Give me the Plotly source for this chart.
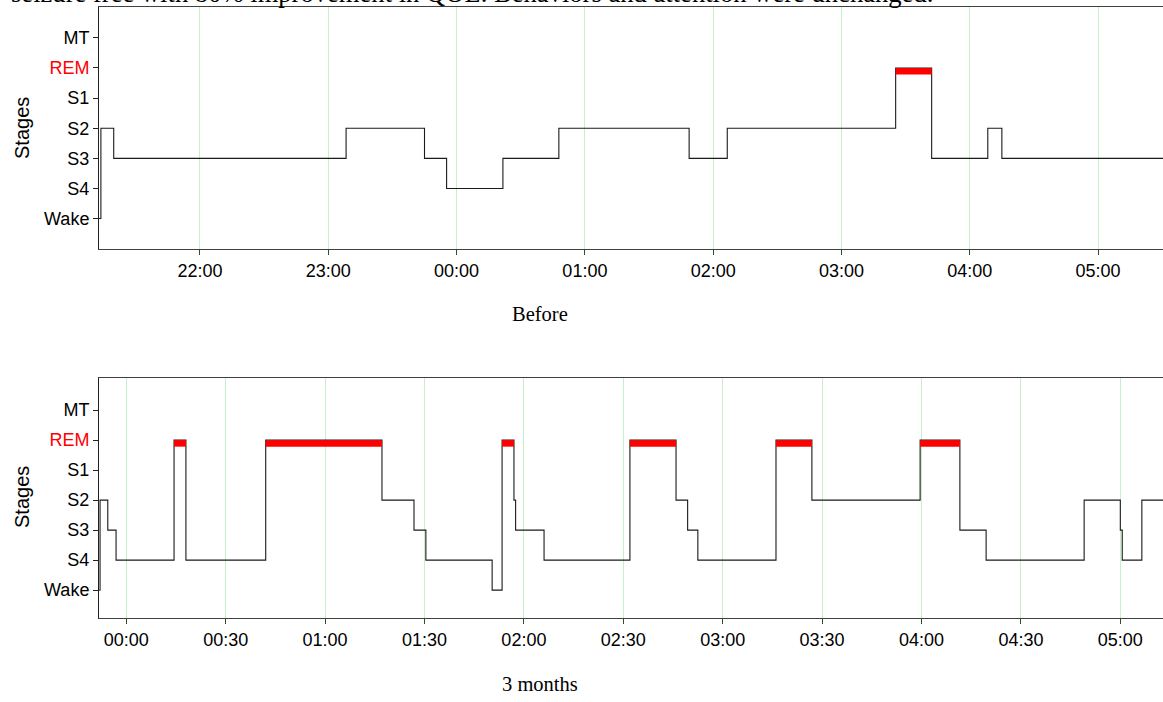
import plotly.graph_objects as go
from datetime import datetime

# ---------------- data ----------------
stage_order = ["Wake", "S4", "S3", "S2", "S1", "REM", "MT"]
tick_labels = ["Wake", "S4", "S3", "S2", "S1", '<span style="color:#ff0000">REM</span>', "MT"]

before_times = ["21:12:40", "21:13:40", "21:19:40", "23:08:20", "23:45:00", "23:55:20",
                "00:21:40", "00:47:50", "01:48:45", "02:06:35", "03:25:20", "03:42:10",
                "04:08:25", "04:15:00", "05:31:00"]
before_stages = ["Wake", "S2", "S3", "S2", "S3", "S4",
                 "S3", "S2", "S3", "S2", "REM", "S3",
                 "S2", "S3", "S3"]

after_times = ["23:51:50", "23:52:05", "23:54:25", "23:56:55", "00:14:25", "00:18:00",
               "00:42:05", "01:17:10", "01:26:50", "01:30:25", "01:50:25", "01:53:25",
               "01:57:00", "01:57:30", "02:06:05", "02:32:00", "02:45:55", "02:49:25",
               "02:52:30", "03:16:05", "03:26:55", "03:59:35", "04:11:35", "04:19:30",
               "04:49:05", "05:00:00", "05:00:35", "05:06:30", "05:13:00"]
after_stages = ["Wake", "S2", "S3", "S4", "REM", "S4",
                "REM", "S2", "S3", "S4", "Wake", "REM",
                "S2", "S3", "S4", "REM", "S2", "S3",
                "S4", "REM", "S2", "REM", "S3", "S4",
                "S2", "S3", "S4", "S2", "S2"]

before_range = ["21:12:47", "05:30:21"]
after_range = ["23:51:46", "05:12:53"]
before_ticks = ["22:00", "23:00", "00:00", "01:00", "02:00", "03:00", "04:00", "05:00"]
after_ticks = ["00:00", "00:30", "01:00", "01:30", "02:00", "02:30", "03:00",
               "03:30", "04:00", "04:30", "05:00"]

header_text = "seizure free with 80% improvement in QOL. Behaviors and attention were unchanged."
panel_titles = ["Before", "3 months"]
y_title = "Stages"


def to_dt(s):
    parts = [int(p) for p in s.split(":")]
    while len(parts) < 3:
        parts.append(0)
    h, m, sec = parts
    day = 1 if h >= 12 else 2
    return datetime(2020, 1, day, h, m, sec)


def stage_val(s):
    return stage_order.index(s)


fig = go.Figure()

GRID = "#c6f0c6"
LINE = "#1a1a1a"
REM_OFF = 0.11


def add_panel(times, stages, xa, ya):
    xs = [to_dt(t) for t in times]
    ys = [stage_val(s) for s in stages]
    fig.add_trace(go.Scatter(x=xs, y=ys, mode="lines", line=dict(color=LINE, width=1.1, shape="hv"),
                             xaxis=xa, yaxis=ya, showlegend=False, hoverinfo="skip"))
    for i, s in enumerate(stages[:-1]):
        if s == "REM":
            fig.add_trace(go.Scatter(x=[xs[i], xs[i + 1]],
                                     y=[stage_val("REM") - REM_OFF] * 2,
                                     mode="lines", line=dict(color="#ff0000", width=6.5),
                                     xaxis=xa, yaxis=ya, showlegend=False, hoverinfo="skip"))


add_panel(before_times, before_stages, "x", "y")
add_panel(after_times, after_stages, "x2", "y2")

W, H = 1163, 702
left = 99 / W

axis_font = dict(family="Liberation Sans, Arial, sans-serif", size=18, color="#000000")

common_x = dict(showgrid=True, gridcolor=GRID, gridwidth=1, showline=True, linecolor="#404040",
                linewidth=1, mirror=True, ticks="outside", ticklen=5, tickcolor="#404040",
                tickfont=axis_font, zeroline=False, tickformat="%H:%M")
common_y = dict(showgrid=False, showline=True, linecolor="#202020", linewidth=1, ticks="outside",
                ticklen=5, tickcolor="#202020", tickfont=axis_font, zeroline=False,
                tickmode="array", tickvals=list(range(len(stage_order))), ticktext=tick_labels)

fig.update_layout(
    width=W, height=H, margin=dict(l=0, r=0, t=0, b=0),
    paper_bgcolor="white", plot_bgcolor="white",
    xaxis=dict(domain=[left, 1.0], anchor="y",
               range=[to_dt(before_range[0]), to_dt(before_range[1])],
               tickmode="array", tickvals=[to_dt(t) for t in before_ticks], **common_x),
    yaxis=dict(domain=[1 - 249 / H, 1 - 6.5 / H], anchor="x", range=[-1.01, 7.04], **common_y),
    xaxis2=dict(domain=[left, 1.0], anchor="y2",
                range=[to_dt(after_range[0]), to_dt(after_range[1])],
                tickmode="array", tickvals=[to_dt(t) for t in after_ticks], **common_x),
    yaxis2=dict(domain=[1 - 618 / H, 1 - 378 / H], anchor="x2", range=[-0.93, 7.07], **common_y),
)

sans20 = dict(family="Liberation Sans, Arial, sans-serif", size=20, color="#000000")
title_font = dict(family="Liberation Serif, Times New Roman, serif", size=20.5, color="#000000")
anns = [
    dict(text=y_title, x=22 / W, y=1 - 128 / H, textangle=-90, font=sans20),
    dict(text=y_title, x=22 / W, y=1 - 497 / H, textangle=-90, font=sans20),
    dict(text=panel_titles[0], x=540 / W, y=1 - 314 / H, font=title_font),
    dict(text=panel_titles[1], x=540 / W, y=1 - 684 / H, font=title_font),
]
for a in anns:
    fig.add_annotation(xref="paper", yref="paper", showarrow=False, xanchor="center",
                       yanchor="middle", **a)

fig.add_annotation(xref="paper", yref="paper", x=9 / W, y=1 - 10 / H, xanchor="left", yanchor="bottom",
                   showarrow=False, text=header_text,
                   font=dict(family="Liberation Serif, Times New Roman, serif", size=26.6, color="#000000"))

fig.write_html("out.html", config={"displayModeBar": False},
               post_script="document.body.style.margin='0';document.body.style.overflow='hidden';")
